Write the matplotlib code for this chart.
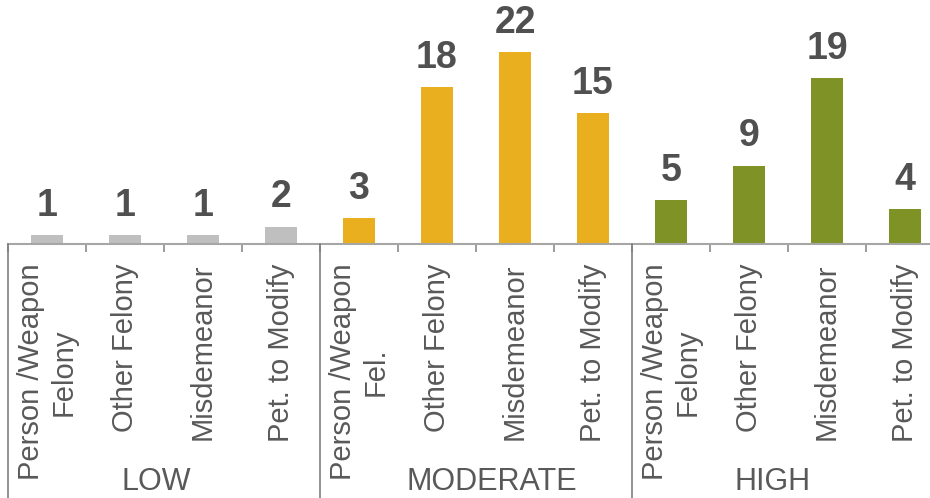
import matplotlib.pyplot as plt
from matplotlib.transforms import blended_transform_factory

# data
groups = ['LOW', 'MODERATE', 'HIGH']
categories = ['Person /Weapon\nFelony', 'Other Felony', 'Misdemeanor', 'Pet. to Modify',
              'Person /Weapon\nFel.', 'Other Felony', 'Misdemeanor', 'Pet. to Modify',
              'Person /Weapon\nFelony', 'Other Felony', 'Misdemeanor', 'Pet. to Modify']
low_values = [1, 1, 1, 2]
moderate_values = [3, 18, 22, 15]
high_values = [5, 9, 19, 4]
group_colors = ['#BFBFBF', '#E9AF1E', '#7F9226']
# small shifts of the group titles, as in the original
group_label_shift = [-0.1, 0.2, -0.2]

plt.rcParams['font.family'] = ['Liberation Sans', 'DejaVu Sans']

values = low_values + moderate_values + high_values
colors = [c for c, g in zip(group_colors, [low_values, moderate_values, high_values]) for _ in g]
x = list(range(len(values)))

fig = plt.figure(figsize=(9.30, 4.98), dpi=100)
ax = fig.add_axes([8 / 930, 254 / 498, 936 / 930, 244 / 498])

ax.bar(x, values, width=0.4, color=colors, zorder=2)
ax.set_xlim(-0.5, len(values) - 0.5)
ax.set_ylim(0, 28)

for xi, v in zip(x, values):
    ax.annotate(str(v), (xi, v), xytext=(0, 8), textcoords='offset points',
                ha='center', va='bottom', fontsize=27, fontweight='bold', color='#505050')

for s in ['top', 'right', 'left']:
    ax.spines[s].set_visible(False)
ax.spines['bottom'].set_color('#A6A6A6')
ax.spines['bottom'].set_linewidth(1.5)
ax.set_yticks([])

ax.set_xticks(x)
ax.set_xticklabels(categories, rotation=90, va='top', ha='center',
                   multialignment='center', fontsize=21, color='#595959')
ax.tick_params(axis='x', which='major', length=0, pad=14)
ax.set_xticks([i - 0.5 for i in range(len(values) + 1)], minor=True)
ax.tick_params(axis='x', which='minor', length=6, width=1.2, color='#8C8C8C')

# group separators and titles
trans = blended_transform_factory(ax.transData, fig.transFigure)
n_per = len(low_values)
bottom = 254 / 498
for gi in range(len(groups) + 1):
    xs = gi * n_per - 0.5
    line = plt.Line2D([xs, xs], [0, bottom], transform=trans, color='#7F7F7F', lw=1.2)
    fig.add_artist(line)
for gi, g in enumerate(groups):
    cx = gi * n_per + (n_per - 1) / 2 + group_label_shift[gi]
    fig.text(cx, 1 / 498, g, transform=trans, ha='center', va='bottom',
             fontsize=22, color='#595959')

fig.savefig('out.png', dpi=100)
